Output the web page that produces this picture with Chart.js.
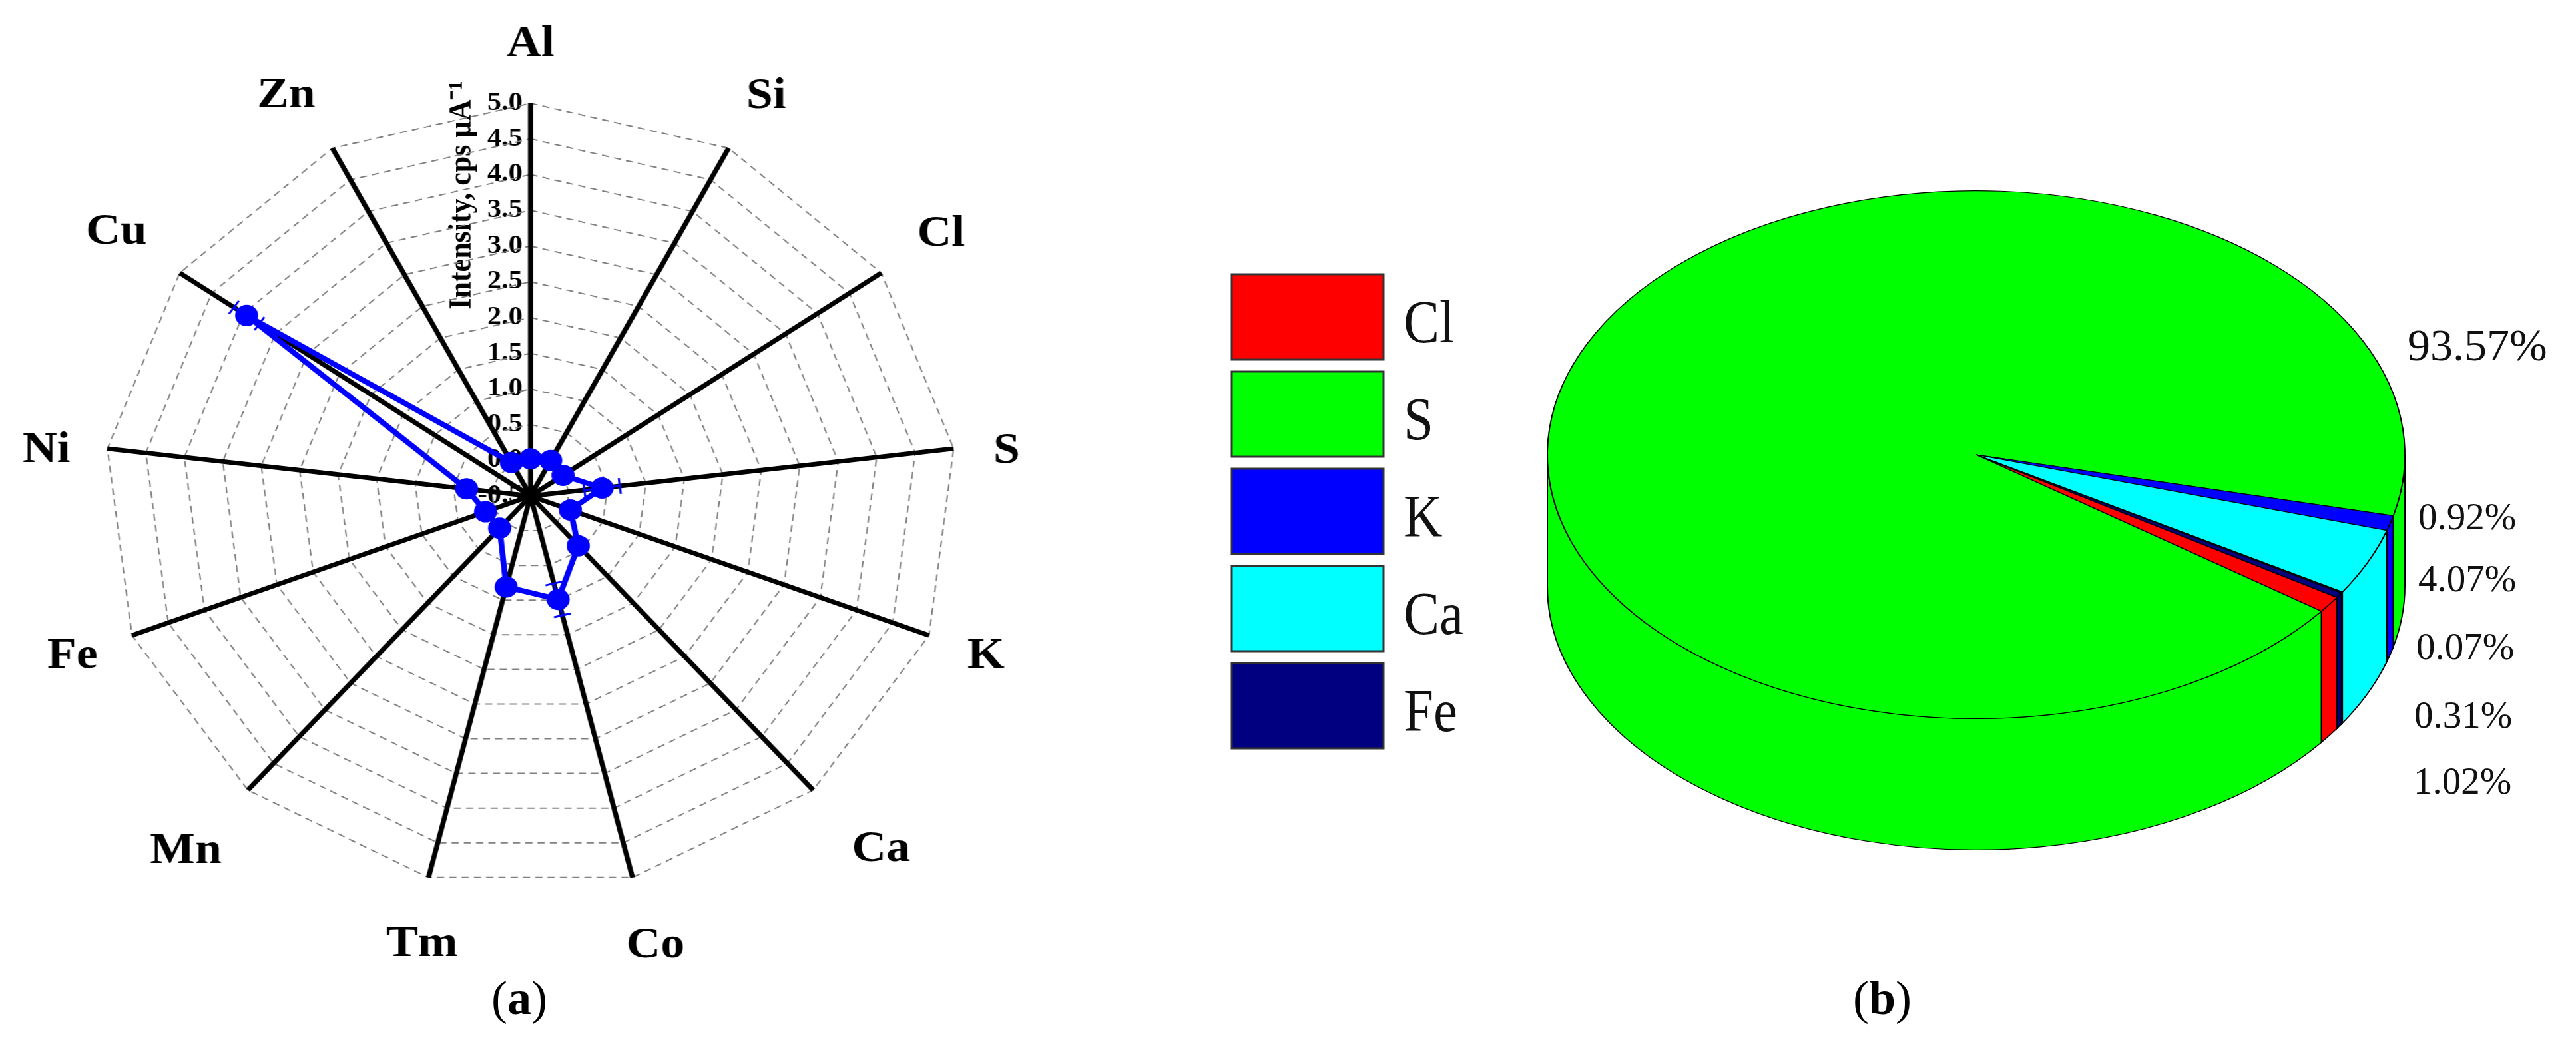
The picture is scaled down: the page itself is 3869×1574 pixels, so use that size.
<!DOCTYPE html>
<html>
<head>
<meta charset="utf-8">
<title>Intensity and composition</title>
<script src="https://cdn.jsdelivr.net/npm/chart.js@4"></script>
<style>
  html, body { margin: 0; background: #fff; }
  body { position: relative; width: 3869px; height: 1574px; overflow: hidden; }
  canvas { position: absolute; }
  #radar { transform: scaleX(1.085); transform-origin: left top; }
  #pie { left: 1800px; top: 0; }
  .cap { position: absolute; top: 1458px; font: 72px "Liberation Serif"; color: #000; }
</style>
</head>
<body>
<canvas id="radar" width="1500" height="1480"></canvas>
<canvas id="pie" width="2069" height="1574"></canvas>
<div class="cap" style="left:738px">(<b>a</b>)</div>
<div class="cap" style="left:2783px">(<b>b</b>)</div>
<script>
// panel a
var elements = ["Al","Si","Cl","S","K","Ca","Co","Tm","Mn","Fe","Ni","Cu","Zn"];
var intensity = [0.02,0.06,0.01,0.43,0.05,0.43,0.99,0.81,0.10,0.12,0.33,3.95,0.03];
var intensityErr = [0,0,0,0.23,0,0,0.23,0,0,0,0,0.2,0];
var labelDist = [683,687,693,664,672,715,693,686,712,676,675,699,693];
var labelShift = [[0,2],[7,5],[-2,-2],[0,10],[2,0],[11,-7],[7,0],[14,5],[-5,-2],[-2,-2],[0,10],[2,-2],[-16,10]];
var axisTitle = "Intensity, cps µA⁻¹";

// panel b, clockwise from the red slice
var pieLabels = ["Cl","S","K","Ca","","Fe"];
var pieValues = [1.02,93.57,0.92,4.07,0.07,0.31];
var pieColors = ["#ff0000","#00ff00","#0000ff","#00ffff","#000080","#000080"];
var pieText = ["93.57%","0.92%","4.07%","0.07%","0.31%","1.02%"];
var pieTextPos = [[1816,523,68],[1832,780,57],[1832,873,57],[1829,975,57],[1826,1078,57],[1825,1177,57]];

var serif = "Liberation Serif";
var stretchX = 1.085;
var blue = "#0000ff";

var radarExtras = {
  id: "radarExtras",
  // under the grid, the spokes run over the tick labels
  beforeDraw: function(chart) {
    var ctx = chart.ctx, r = chart.scales.r;
    ctx.save();
    ctx.fillStyle = "#000";
    ctx.font = "bold 39px '" + serif + "'";
    ctx.textAlign = "right";
    ctx.textBaseline = "middle";
    r.ticks.forEach(function(t) {
      ctx.fillText(t.label, r.xCenter - 11, r.yCenter - r.getDistanceFromCenterForValue(t.value));
    });
    ctx.textAlign = "center";
    ctx.font = "bold 66px '" + serif + "'";
    elements.forEach(function(name, i) {
      var p = r.getPointPosition(i, labelDist[i]);
      ctx.fillText(name, p.x + labelShift[i][0], p.y + 3 + labelShift[i][1]);
    });
    ctx.translate(r.xCenter - 94, r.yCenter - 452);
    ctx.rotate(-Math.PI / 2);
    ctx.font = "bold 44px '" + serif + "'";
    ctx.fillText(axisTitle, 0, 0);
    ctx.restore();
  },
  beforeDatasetsDraw: function(chart) {
    var ctx = chart.ctx, r = chart.scales.r;
    ctx.save();
    ctx.strokeStyle = blue;
    ctx.lineWidth = 3;
    intensity.forEach(function(v, i) {
      if (!intensityErr[i]) return;
      var lo = r.getPointPositionForValue(i, v - intensityErr[i]);
      var hi = r.getPointPositionForValue(i, v + intensityErr[i]);
      var dx = hi.x - lo.x, dy = hi.y - lo.y, len = Math.hypot(dx, dy);
      var nx = -dy / len * 12, ny = dx / len * 12;
      ctx.beginPath();
      ctx.moveTo(lo.x, lo.y); ctx.lineTo(hi.x, hi.y);
      ctx.moveTo(lo.x + nx, lo.y + ny); ctx.lineTo(lo.x - nx, lo.y - ny);
      ctx.moveTo(hi.x + nx, hi.y + ny); ctx.lineTo(hi.x - nx, hi.y - ny);
      ctx.stroke();
    });
    ctx.restore();
  }
};

var markerGap = 27;
var radar = new Chart("radar", {
  type: "radar",
  data: {
    labels: elements,
    datasets: [{
      data: intensity,
      borderColor: blue,
      backgroundColor: blue,
      borderWidth: 8,
      fill: false,
      pointRadius: 16,
      pointBackgroundColor: blue,
      pointBorderColor: blue,
      pointBorderWidth: 0,
      segment: {
        // the line stops short of each marker
        borderDash: function(c) {
          var d = Math.hypot(c.p1.x - c.p0.x, c.p1.y - c.p0.y);
          return [Math.max(d - 2 * markerGap, 0), 100000];
        },
        borderDashOffset: function() { return -markerGap; }
      }
    }]
  },
  options: {
    responsive: false,
    animation: false,
    events: [],
    layout: { padding: {top: 150, bottom: 150} },
    plugins: { legend: {display: false}, tooltip: {enabled: false} },
    scales: {
      r: {
        min: -0.5,
        max: 5,
        ticks: { display: false, stepSize: 0.5, callback: function(v) { return v.toFixed(1); } },
        grid: { color: "#808080", lineWidth: 2 },
        border: { dash: [10, 7] },
        angleLines: { color: "#000", lineWidth: 7 },
        pointLabels: { display: false }
      }
    }
  },
  plugins: [radarExtras]
});
var rs = radar.scales.r;
radar.canvas.style.left = (797 - stretchX * rs.xCenter) + "px";
radar.canvas.style.top = (745 - rs.yCenter) + "px";

// the pie is squashed into an ellipse and given a side wall
var pieCx = 1168, pieCy = 683, squash = 397 / 645, pieDepth = 197 / squash;
var legendBox = {left: 50, top: 412, w: 228, h: 128, step: 146};
var pie3d = {
  id: "pie3d",
  beforeDraw: function(chart) {
    var ctx = chart.ctx, row = 0;
    ctx.save();
    ctx.textBaseline = "middle";
    pieLabels.forEach(function(name, i) {
      if (!name) return;
      var y = legendBox.top + row * legendBox.step;
      ctx.fillStyle = pieColors[i];
      ctx.fillRect(legendBox.left, y, legendBox.w, legendBox.h);
      ctx.strokeStyle = "#333";
      ctx.lineWidth = 3;
      ctx.strokeRect(legendBox.left, y, legendBox.w, legendBox.h);
      ctx.save();
      ctx.translate(legendBox.left + legendBox.w + 30, y + legendBox.h / 2 + 14);
      ctx.scale(0.9, 1);
      ctx.fillStyle = "#111";
      ctx.font = "90px '" + serif + "'";
      ctx.fillText(name, 0, 0);
      ctx.restore();
      row++;
    });
    ctx.restore();
  },
  beforeDatasetsDraw: function(chart) {
    var ctx = chart.ctx, arcs = chart.getDatasetMeta(0).data, a0 = arcs[0];
    ctx.save();
    ctx.translate(pieCx, pieCy);
    ctx.scale(1, squash);
    ctx.translate(-a0.x, -a0.y);
    arcs.forEach(function(a, i) {
      for (var k = -1; k < 3; k++) {
        var from = Math.max(a.startAngle, 2 * Math.PI * k);
        var to = Math.min(a.endAngle, 2 * Math.PI * k + Math.PI);
        if (to <= from) continue;
        ctx.beginPath();
        ctx.arc(a.x, a.y + pieDepth, a.outerRadius, from, to);
        ctx.arc(a.x, a.y, a.outerRadius, to, from, true);
        ctx.closePath();
        ctx.fillStyle = pieColors[i];
        ctx.fill();
        ctx.strokeStyle = "#000";
        ctx.lineWidth = 2;
        ctx.stroke();
      }
    });
  },
  afterDatasetsDraw: function(chart) {
    var ctx = chart.ctx;
    ctx.restore();
    ctx.save();
    ctx.fillStyle = "#111";
    ctx.textBaseline = "middle";
    pieText.forEach(function(t, i) {
      ctx.font = pieTextPos[i][2] + "px '" + serif + "'";
      ctx.fillText(t, pieTextPos[i][0], pieTextPos[i][1]);
    });
    ctx.restore();
  }
};

new Chart("pie", {
  type: "pie",
  data: {
    labels: pieLabels,
    datasets: [{
      data: pieValues,
      backgroundColor: pieColors,
      borderColor: "#000",
      borderWidth: 2,
      hoverOffset: 0
    }]
  },
  options: {
    responsive: false,
    animation: false,
    events: [],
    rotation: 122.7,
    layout: { padding: {top: 142, bottom: 142} },
    plugins: { tooltip: {enabled: false}, legend: {display: false} }
  },
  plugins: [pie3d]
});
</script>
</body>
</html>
